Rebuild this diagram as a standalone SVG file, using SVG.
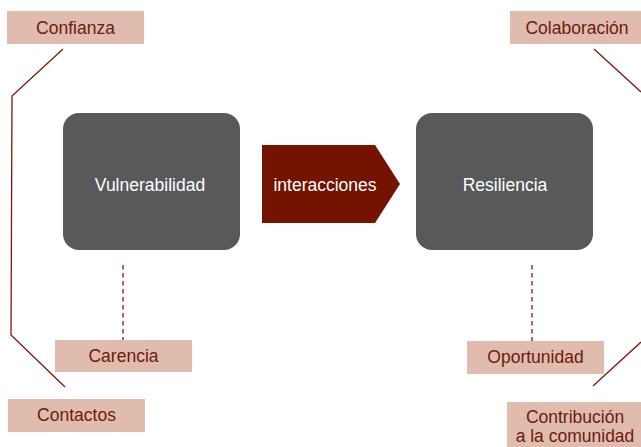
<svg xmlns="http://www.w3.org/2000/svg" width="641" height="447" viewBox="0 0 641 447">
<style>
.lbl rect{fill:#dfbcad}
.lbl text{fill:#6e1a0f;font-family:"Liberation Sans",Arial,sans-serif;font-size:17.5px;text-anchor:middle}
.main rect{fill:#58595b}
.main text{fill:#ffffff;font-family:"Liberation Sans",Arial,sans-serif;font-size:17.5px;text-anchor:middle}
.conn{stroke:#7a1a0c;stroke-width:1.3;fill:none}
.dash{stroke:#7a1a0c;stroke-width:1.3;fill:none;stroke-dasharray:4.5 3.5}
</style>
<rect width="641" height="447" fill="#ffffff"/>
<g id="connectors">
<polyline class="conn" points="63,49 12,96 11,335 65,387"/>
<polyline class="conn" points="594,49 641,92"/>
<polyline class="conn" points="641,342 593,386"/>
<line class="dash" x1="123" y1="265" x2="123" y2="340"/>
<line class="dash" x1="532" y1="265" x2="532" y2="341"/>
</g>
<g id="vulnerabilidad" class="main"><rect x="63" y="113" width="177" height="137" rx="16"/><text x="150" y="191">Vulnerabilidad</text></g>
<g id="resiliencia" class="main"><rect x="416" y="113" width="177" height="137" rx="16"/><text x="505" y="191">Resiliencia</text></g>
<g id="interacciones"><polygon points="262,145 375,145 400,184 375,223 262,223" fill="#731300"/><text x="325" y="191" fill="#ffffff" font-family="'Liberation Sans',Arial,sans-serif" font-size="17.5" text-anchor="middle">interacciones</text></g>
<g id="confianza" class="lbl"><rect x="7" y="11" width="137" height="33"/><text x="75.5" y="34">Confianza</text></g>
<g id="colaboracion" class="lbl"><rect x="510" y="11" width="135" height="33"/><text x="577" y="34">Colaboración</text></g>
<g id="carencia" class="lbl"><rect x="55" y="340" width="137" height="32"/><text x="123.5" y="362">Carencia</text></g>
<g id="oportunidad" class="lbl"><rect x="467" y="341" width="137" height="33"/><text x="535.5" y="363">Oportunidad</text></g>
<g id="contactos" class="lbl"><rect x="8" y="399" width="137" height="33"/><text x="76.5" y="421">Contactos</text></g>
<g id="contribucion" class="lbl"><rect x="507" y="402" width="140" height="50"/><text x="575" y="423">Contribución</text><text x="575" y="442">a la comunidad</text></g>
</svg>
